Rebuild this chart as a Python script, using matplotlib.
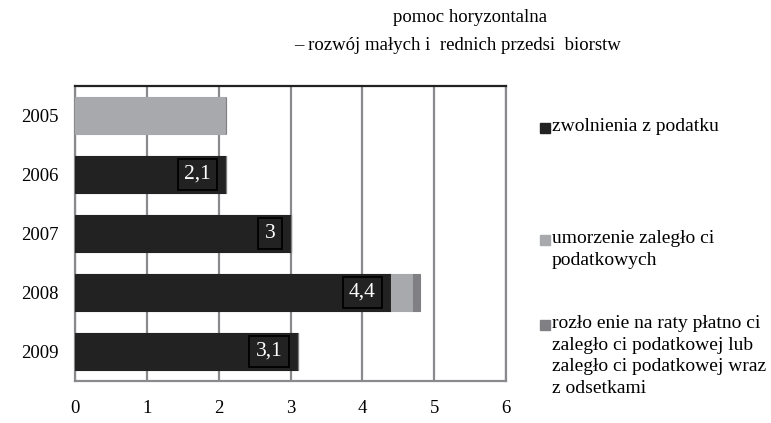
import matplotlib
matplotlib.use("Agg")
import matplotlib.pyplot as plt
from matplotlib.patches import Rectangle

plt.rcParams['font.family'] = ['Liberation Serif', 'DejaVu Serif']

years = ['2005', '2006', '2007', '2008', '2009']
zwolnienia = [0, 2.1, 3, 4.4, 3.1]
umorzenie = [2.1, 0, 0, 0.3, 0]
rozlozenie = [0, 0, 0, 0.1, 0]
bar_labels = ['', '2,1', '3', '4,4', '3,1']
series_names = ['zwolnienia z podatku',
                'umorzenie zaległo ci\npodatkowych',
                'rozło enie na raty płatno ci\nzaległo ci podatkowej lub\nzaległo ci podatkowej wraz\nz odsetkami']
colors = ['#222222', '#a7a9ac', '#808084']
title_lines = ['pomoc horyzontalna', '– rozwój małych i  rednich przedsi  biorstw']

fig = plt.figure(figsize=(7.71, 4.23), dpi=100)
ax = fig.add_axes([75/771, 1-381/423, (506-75)/771, (381-86)/423])

pos = list(range(len(years)))
h = 0.63
left = [0]*len(years)
for vals, c in zip([zwolnienia, umorzenie, rozlozenie], colors):
    ax.barh(pos, vals, left=left, height=h, color=c, edgecolor=c, linewidth=0.8, zorder=3)
    left = [l + v for l, v in zip(left, vals)]

for p, v, lab in zip(pos, zwolnienia, bar_labels):
    if lab:
        ax.text(v - 0.21, p, lab, ha='right', va='center', color='white', fontsize=15.5,
                zorder=5,
                bbox=dict(boxstyle='square,pad=0.3', facecolor=colors[0], edgecolor='black', linewidth=1.3))

ax.set_xlim(0, 6)
ax.set_ylim(len(years) - 0.5, -0.5)
ax.set_yticks(pos)
ax.set_yticklabels(years, fontsize=13.5)
ax.set_xticks(range(7))
ax.set_xticklabels([str(i) for i in range(7)], fontsize=13.5)
ax.tick_params(length=0, pad=12)
ax.tick_params(axis='x', pad=14)
ax.grid(axis='x', color='#8a8a8e', linewidth=1.6, zorder=0)
for s in ['left', 'bottom', 'right']:
    ax.spines[s].set_color('#8a8a8e')
    ax.spines[s].set_linewidth(1.6)
ax.spines['top'].set_color('#222222')
ax.spines['top'].set_linewidth(1.6)

for (txt, xc, yc) in zip(title_lines, [470, 457], [17, 45]):
    fig.text(xc/771, 1-yc/423, txt, ha='center', va='center', fontsize=13.5)

leg_y = [128, 240, 325]
for name, c, y in zip(series_names, colors, leg_y):
    fig.patches.append(Rectangle((540/771, 1-(y+5)/423), 10/771, 10/423,
                                 transform=fig.transFigure, facecolor=c, edgecolor=c))
    fig.text(552/771, 1-(y-10)/423, name, ha='left', va='top', fontsize=14, linespacing=1.36)

fig.savefig('out.png', dpi=100)
